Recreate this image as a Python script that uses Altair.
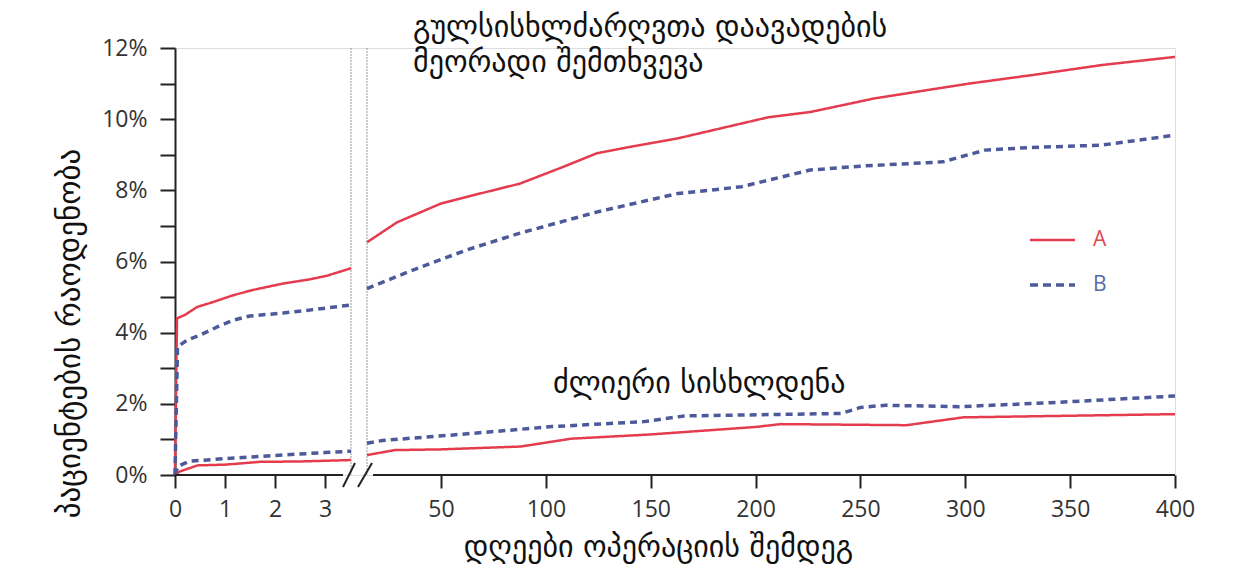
import altair as alt
import pandas as pd

# ---- data (days after operation, % of patients) ----
# left part of the broken axis (0 - 3.5 days)
A_up_left_days = [0, 0.04, 0.2, 0.44, 0.76, 1.16, 1.56, 2.16, 2.7, 3.04, 3.52]
A_up_left_vals = [0, 4.4, 4.5, 4.72, 4.86, 5.05, 5.2, 5.38, 5.5, 5.6, 5.81]
B_up_left_days = [0, 0.05, 0.24, 0.5, 0.84, 1.16, 1.5, 2.16, 2.84, 3.52]
B_up_left_vals = [0, 3.6, 3.79, 3.93, 4.16, 4.35, 4.47, 4.55, 4.66, 4.78]
A_lo_left_days = [0, 0.1, 0.45, 1.0, 1.7, 2.5, 3.52]
A_lo_left_vals = [0, 0.1, 0.27, 0.29, 0.37, 0.38, 0.42]
B_lo_left_days = [0, 0.06, 0.3, 1.0, 2.0, 3.0, 3.52]
B_lo_left_vals = [0, 0.25, 0.39, 0.46, 0.55, 0.63, 0.67]

# right part of the broken axis (~15 - 400 days)
A_up_right_days = [14.7, 29, 50, 68.6, 87.7, 108.3, 124.2, 140, 162.9, 184, 205.8, 226, 256.4, 280, 301.8, 332, 364.9, 400]
A_up_right_vals = [6.54, 7.1, 7.63, 7.91, 8.19, 8.66, 9.04, 9.22, 9.46, 9.75, 10.05, 10.2, 10.58, 10.8, 11.0, 11.24, 11.52, 11.75]
B_up_right_days = [14.7, 36.6, 62, 87.2, 124.9, 162.9, 193.2, 226, 250, 289.2, 309.4, 330, 364.9, 400]
B_up_right_vals = [5.24, 5.76, 6.32, 6.79, 7.40, 7.91, 8.10, 8.57, 8.68, 8.80, 9.13, 9.2, 9.27, 9.55]
A_lo_right_days = [14.7, 28, 50, 88, 112, 150, 200, 212, 272, 299, 400]
A_lo_right_vals = [0.56, 0.70, 0.72, 0.80, 1.02, 1.14, 1.35, 1.43, 1.40, 1.62, 1.71]
B_lo_right_days = [14.7, 22, 54.7, 103, 146.7, 166, 241, 250, 262, 296.9, 340.5, 400]
B_lo_right_vals = [0.89, 0.97, 1.12, 1.36, 1.50, 1.66, 1.73, 1.90, 1.96, 1.92, 2.03, 2.22]

series_names = ["A", "B"]
series_colors = ["#e43c4e", "#4c5a9a"]
legend_text_colors = ["#e0474f", "#5a6aa6"]

x_tick_values = [0, 1, 2, 3, 50, 100, 150, 200, 250, 300, 350, 400]
y_tick_values = list(range(0, 13))

x_title = "დღეები ოპერაციის შემდეგ"
y_title = "პაციენტების რაოდენობა"
note_top_1 = "გულსისხლძარღვთა დაავადების"
note_top_2 = "მეორადი შემთხვევა"
note_low = "ძლიერი სისხლდენა"

# ---- build table ----
rows = []
def add(series, outcome, seg, days, vals):
    for d, v in zip(days, vals):
        rows.append({"series": series, "group": f"{series}-{outcome}-{seg}", "day": d, "pct": v})

add("A", "up", "L", A_up_left_days, A_up_left_vals)
add("B", "up", "L", B_up_left_days, B_up_left_vals)
add("A", "lo", "L", A_lo_left_days, A_lo_left_vals)
add("B", "lo", "L", B_lo_left_days, B_lo_left_vals)
add("A", "up", "R", A_up_right_days, A_up_right_vals)
add("B", "up", "R", B_up_right_days, B_up_right_vals)
add("A", "lo", "R", A_lo_right_days, A_lo_right_vals)
add("B", "lo", "R", B_lo_right_days, B_lo_right_vals)
df = pd.DataFrame(rows)

W, H = 1000, 427
# piecewise (broken) x scale
xscale = alt.Scale(domain=[0, 3.52, 14.7, 400], range=[0, 176, 192, W], nice=False, zero=False)
yscale = alt.Scale(domain=[0, 12], nice=False)

FONT = "Open Sans"
GEO = "DejaVu Sans"
GSIZE = 30

lines = alt.Chart(df).mark_line(strokeJoin="round").encode(
    x=alt.X("day:Q", scale=xscale,
            axis=alt.Axis(values=x_tick_values, format="d", domain=False, grid=False,
                          tickSize=13, tickWidth=2, tickColor="#222",
                          labelFont=FONT, labelFontSize=23, labelColor="#333",
                          labelPadding=10, labelFlush=False,
                          title=x_title, titleFont=GEO, titleFontSize=GSIZE,
                          titleFontWeight="normal", titleColor="#111",
                          titleX=483, titleY=72, titleAlign="center",
                          titleBaseline="middle", titleAnchor="start")),
    y=alt.Y("pct:Q", scale=yscale,
            axis=alt.Axis(values=y_tick_values,
                          labelExpr="datum.value % 2 == 0 ? datum.value + '%' : ''",
                          grid=False, domain=True, domainColor="#222", domainWidth=2,
                          tickSize=15, tickWidth=2, tickColor="#222",
                          labelFont=FONT, labelFontSize=23, labelColor="#333",
                          labelPadding=13,
                          title=y_title, titleFont=GEO, titleFontSize=GSIZE + 1,
                          titleFontWeight="normal", titleColor="#111",
                          titleX=-105, titleY=285, titleAlign="center",
                          titleBaseline="middle", titleAngle=-90, titleAnchor="start")),
    color=alt.Color("series:N", scale=alt.Scale(domain=series_names, range=series_colors), legend=None),
    strokeDash=alt.StrokeDash("series:N", scale=alt.Scale(domain=series_names, range=[[1, 0], [7, 5]]), legend=None),
    strokeWidth=alt.StrokeWidth("series:N", scale=alt.Scale(domain=series_names, range=[2.5, 3.5]), legend=None),
    detail="group:N",
)

one = pd.DataFrame({"k": [0]})

# x axis baseline, broken in two pieces
base_left = alt.Chart(one).mark_rule(color="#222", strokeWidth=2).encode(
    x=alt.value(0), x2=alt.value(168), y=alt.value(H))
base_right = alt.Chart(one).mark_rule(color="#222", strokeWidth=2).encode(
    x=alt.value(198), x2=alt.value(W), y=alt.value(H))
slash1 = alt.Chart(one).mark_rule(color="#222", strokeWidth=2).encode(
    x=alt.value(168), x2=alt.value(180), y=alt.value(H + 12), y2=alt.value(H - 12))
slash2 = alt.Chart(one).mark_rule(color="#222", strokeWidth=2).encode(
    x=alt.value(183), x2=alt.value(197), y=alt.value(H + 12), y2=alt.value(H - 12))
# dotted break guides
guide1 = alt.Chart(one).mark_rule(color="#999", strokeWidth=1, strokeDash=[2, 1]).encode(
    x=alt.value(176), y=alt.value(0), y2=alt.value(H))
guide2 = alt.Chart(one).mark_rule(color="#999", strokeWidth=1, strokeDash=[2, 1]).encode(
    x=alt.value(192), y=alt.value(0), y2=alt.value(H))

# annotations
def note(txt, x, y, size=GSIZE):
    return alt.Chart(pd.DataFrame({"t": [txt]})).mark_text(
        font=GEO, fontSize=size, color="#111", align="left", baseline="middle"
    ).encode(text="t:N", x=alt.value(x), y=alt.value(y))

n1 = note(note_top_1, 238, -20)
n2 = note(note_top_2, 238, 15)
n3 = note(note_low, 378, 336)

# manual legend
leg_a = alt.Chart(one).mark_rule(color=series_colors[0], strokeWidth=2.5).encode(
    x=alt.value(855), x2=alt.value(900), y=alt.value(192))
leg_b = alt.Chart(one).mark_rule(color=series_colors[1], strokeWidth=3.5, strokeDash=[8, 5]).encode(
    x=alt.value(855), x2=alt.value(900), y=alt.value(237))
leg_ta = alt.Chart(pd.DataFrame({"t": [series_names[0]]})).mark_text(
    font=FONT, fontSize=21, color=legend_text_colors[0], align="left", baseline="middle"
).encode(text="t:N", x=alt.value(918), y=alt.value(192))
leg_tb = alt.Chart(pd.DataFrame({"t": [series_names[1]]})).mark_text(
    font=FONT, fontSize=21, color=legend_text_colors[1], align="left", baseline="middle"
).encode(text="t:N", x=alt.value(918), y=alt.value(237))

chart = alt.layer(
    guide1, guide2, lines, base_left, base_right, slash1, slash2,
    n1, n2, n3, leg_a, leg_b, leg_ta, leg_tb
).properties(
    width=W, height=H,
    autosize=alt.AutoSizeParams(type="none"),
    padding={"left": 167, "top": 40, "right": 66, "bottom": 92},
).configure_view(stroke=None).configure(background="white")

chart.save("out.html", embed_options={"renderer": "svg", "actions": False})
